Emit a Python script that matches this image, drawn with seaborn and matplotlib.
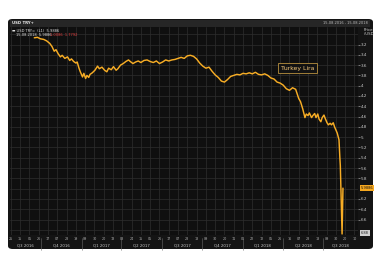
import matplotlib
matplotlib.use("Agg")
import matplotlib.pyplot as plt
import matplotlib.dates as mdates
import matplotlib.transforms as mtransforms
from matplotlib.patches import FancyBboxPatch, Rectangle
import seaborn as sns
import pandas as pd
import numpy as np

# ---------------- data ----------------
dates = [
    "2016-09-16", "2016-09-23", "2016-09-30", "2016-10-07", "2016-10-14", "2016-10-21",
    "2016-10-26", "2016-10-31", "2016-11-04", "2016-11-09", "2016-11-14", "2016-11-18",
    "2016-11-24", "2016-11-30", "2016-12-05", "2016-12-09", "2016-12-14", "2016-12-19",
    "2016-12-22", "2016-12-26", "2016-12-29", "2017-01-03", "2017-01-06", "2017-01-10",
    "2017-01-13", "2017-01-17", "2017-01-20", "2017-01-25", "2017-01-31", "2017-02-06",
    "2017-02-10", "2017-02-16", "2017-02-22", "2017-02-27", "2017-03-03", "2017-03-09",
    "2017-03-14", "2017-03-20", "2017-03-24", "2017-03-30", "2017-04-05", "2017-04-11",
    "2017-04-17", "2017-04-21", "2017-04-27", "2017-05-03", "2017-05-09", "2017-05-15",
    "2017-05-22", "2017-05-29", "2017-06-05", "2017-06-12", "2017-06-19", "2017-06-26",
    "2017-07-03", "2017-07-10", "2017-07-17", "2017-07-24", "2017-07-31", "2017-08-07",
    "2017-08-14", "2017-08-21", "2017-08-28", "2017-09-04", "2017-09-11", "2017-09-18",
    "2017-09-25", "2017-10-02", "2017-10-09", "2017-10-16", "2017-10-23", "2017-10-30",
    "2017-11-06", "2017-11-13", "2017-11-20", "2017-11-27", "2017-12-04", "2017-12-11",
    "2017-12-18", "2017-12-25", "2018-01-01", "2018-01-08", "2018-01-15", "2018-01-22",
    "2018-01-29", "2018-02-05", "2018-02-12", "2018-02-19", "2018-02-26", "2018-03-05",
    "2018-03-12", "2018-03-19", "2018-03-26", "2018-04-02", "2018-04-09", "2018-04-16",
    "2018-04-23", "2018-04-30", "2018-05-07", "2018-05-11", "2018-05-16", "2018-05-21",
    "2018-05-24", "2018-05-28", "2018-05-31", "2018-06-05", "2018-06-08", "2018-06-12",
    "2018-06-15", "2018-06-19", "2018-06-22", "2018-06-26", "2018-06-29", "2018-07-03",
    "2018-07-06", "2018-07-10", "2018-07-13", "2018-07-17", "2018-07-20", "2018-07-24",
    "2018-07-27", "2018-07-31", "2018-08-02", "2018-08-06", "2018-08-07", "2018-08-08",
    "2018-08-09", "2018-08-10", "2018-08-13", "2018-08-14", "2018-08-15",
]
usd_try = [
    3.07, 3.06, 3.09, 3.10, 3.13, 3.18,
    3.24, 3.33, 3.30, 3.38, 3.44, 3.41,
    3.47, 3.44, 3.51, 3.48, 3.53, 3.56,
    3.54, 3.66, 3.73, 3.83, 3.76, 3.86,
    3.80, 3.84, 3.78, 3.75, 3.70, 3.62,
    3.67, 3.64, 3.70, 3.73, 3.66, 3.69,
    3.63, 3.70, 3.67, 3.60, 3.57, 3.53,
    3.50, 3.53, 3.57, 3.54, 3.52, 3.55,
    3.51, 3.50, 3.53, 3.55, 3.52, 3.57,
    3.54, 3.50, 3.52, 3.50, 3.49, 3.47,
    3.45, 3.47, 3.42, 3.41, 3.43, 3.48,
    3.56, 3.62, 3.66, 3.64, 3.72, 3.79,
    3.84, 3.91, 3.93, 3.88, 3.82, 3.80,
    3.78, 3.79, 3.76, 3.77, 3.75, 3.77,
    3.74, 3.78, 3.79, 3.77, 3.80, 3.85,
    3.87, 3.93, 3.95, 3.99, 4.06, 4.09,
    4.04, 4.07, 4.25, 4.31, 4.45, 4.62,
    4.55, 4.58, 4.53, 4.62, 4.58, 4.54,
    4.62, 4.55, 4.65, 4.70, 4.62, 4.57,
    4.64, 4.72, 4.76, 4.73, 4.76, 4.72,
    4.80, 4.88, 4.92, 5.05, 5.25, 5.40,
    5.55, 5.90, 6.88, 6.40, 5.99,
]
y_tick_values = [3.2, 3.4, 3.6, 3.8, 4.0, 4.2, 4.4, 4.6, 4.8, 5.0, 5.2, 5.4, 5.6, 5.8, 6.2, 6.4, 6.6]
y_tick_labels = ["3.2", "3.4", "3.6", "3.8", "4", "4.2", "4.4", "4.6", "4.8", "5", "5.2", "5.4",
                 "5.6", "5.8", "6.2", "6.4", "6.6"]
quarter_labels = ["Q3 2016", "Q4 2016", "Q1 2017", "Q2 2017", "Q3 2017",
                  "Q4 2017", "Q1 2018", "Q2 2018", "Q3 2018"]
quarter_starts = ["2016-07-01", "2016-10-01", "2017-01-01", "2017-04-01", "2017-07-01",
                  "2017-10-01", "2018-01-01", "2018-04-01", "2018-07-01", "2018-10-01"]
last_price = "5.9886"
series_name = "Turkey Lira"

df = pd.DataFrame({"date": pd.to_datetime(dates), "value": usd_try})

# ---------------- style ----------------
sns.set_theme(style="dark")
plt.rcParams["font.family"] = ["DejaVu Sans"]

W, H = 380, 263
fig = plt.figure(figsize=(W / 100, H / 100), dpi=100)
fig.patch.set_facecolor("white")


def fx(px):
    return px / W


def fy(py):
    return 1 - py / H


# dark terminal panel (behind the axes)
panel = FancyBboxPatch((fx(8), fy(249)), fx(373) - fx(8), fy(19) - fy(249),
                       boxstyle="round,pad=0,rounding_size=0.012",
                       transform=fig.transFigure, facecolor="#141414", edgecolor="none",
                       zorder=-10)
fig.patches.append(panel)
header = Rectangle((fx(10), fy(27)), fx(370) - fx(10), fy(20) - fy(27),
                   transform=fig.transFigure, facecolor="#262626", edgecolor="none",
                   zorder=-9)
fig.patches.append(header)

ax = fig.add_axes([fx(10), fy(235), fx(358) - fx(10), fy(27) - fy(235)])
ax.set_facecolor("#0f0f0f")

sns.lineplot(data=df, x="date", y="value", ax=ax, color="#f7ad25", linewidth=1.05)

xmin, xmax = pd.Timestamp("2016-07-23"), pd.Timestamp("2018-09-18")
ax.set_xlim(xmin, xmax)
ax.set_ylim(6.9, 2.86)

ax.yaxis.tick_right()
ax.set_yticks(y_tick_values)
ax.set_yticklabels(y_tick_labels)
ax.set_yticks(np.arange(3.0, 6.81, 0.2), minor=True)
ax.xaxis.set_major_locator(mdates.WeekdayLocator(byweekday=mdates.MO, interval=3))
ax.xaxis.set_major_formatter(mdates.DateFormatter("%d"))
ax.tick_params(axis="y", which="major", labelsize=3, colors="#c8c8c8", length=1.2, width=0.4, pad=1)
ax.tick_params(axis="y", which="minor", length=0)
ax.tick_params(axis="x", which="major", labelsize=2.4, colors="#b0b0b0", length=0, pad=1.5)
ax.grid(True, which="both", color="#2e2e2e", linewidth=0.5)
ax.set_axisbelow(True)
for s in ax.spines.values():
    s.set_visible(False)
ax.set_xlabel("")
ax.set_ylabel("")

# quarter labels and separators below the axis
blend = mtransforms.blended_transform_factory(ax.transData, ax.transAxes)
qs = pd.to_datetime(quarter_starts)
for i, lab in enumerate(quarter_labels):
    a = max(qs[i], xmin)
    b = min(qs[i + 1], xmax)
    c = a + (b - a) / 2
    ax.text(c, -0.052, lab, transform=blend, ha="center", va="center",
            fontsize=2.8, color="#c8c8c8")
for q in qs[1:-1]:
    ax.plot([q, q], [-0.015, -0.07], transform=blend, color="#6a6a6a",
            linewidth=0.4, clip_on=False)

# right axis header and last price tag
fig.text(fx(364), fy(32), "Price\n/USD", fontsize=2.8, color="#d0d0d0",
         ha="left", va="center", linespacing=1.2)
yblend = mtransforms.blended_transform_factory(ax.transAxes, ax.transData)
ax.text(1.008, 5.9886, last_price, transform=yblend, fontsize=2.6, color="#111111",
        ha="left", va="center",
        bbox=dict(boxstyle="square,pad=0.25", facecolor="#f6a81f", edgecolor="none"))
ax.text(1.008, 6.86, "6.88", transform=yblend, fontsize=2.6, color="#222222",
        ha="left", va="center",
        bbox=dict(boxstyle="square,pad=0.25", facecolor="#cfcfcf", edgecolor="none"))

# annotation box
ax.text(pd.Timestamp("2018-05-05"), 3.66, series_name, fontsize=4.4, color="#f3c77a",
        ha="center", va="center",
        bbox=dict(boxstyle="square,pad=0.45", facecolor="#121212", edgecolor="#b8913f",
                  linewidth=0.6))

# header texts
fig.text(fx(12), fy(23.5), "USD TRY+", fontsize=2.8, color="#e8e8e8", ha="left",
         va="center", weight="bold")
fig.text(fx(368), fy(23.5), "15.08.2016 - 15.08.2018", fontsize=2.6, color="#bdbdbd",
         ha="right", va="center")

# legend block
fig.text(fx(12), fy(30.5), "\u25ac USD TRY=  (L1)  5.9886", fontsize=2.6, color="#e0e0e0",
         ha="left", va="center")
fig.text(fx(16), fy(35.5), "15.08.2018  5.9886", fontsize=2.6, color="#e0e0e0",
         ha="left", va="center")
fig.text(fx(50), fy(35.5), "1.0086  1.7792", fontsize=2.6, color="#e23b3b",
         ha="left", va="center")

fig.savefig("out.png", dpi=100, facecolor=fig.get_facecolor())
